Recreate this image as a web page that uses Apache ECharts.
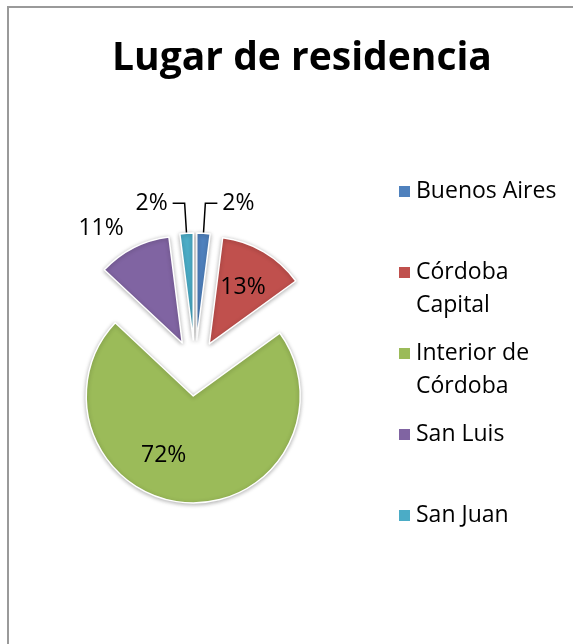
<!DOCTYPE html>
<html>
<head>
<meta charset="utf-8">
<title>Lugar de residencia</title>
<script src="https://cdn.jsdelivr.net/npm/echarts@6/dist/echarts.min.js"></script>
<style>
  html, body { margin: 0; padding: 0; background: #fff; overflow: hidden; }
  #frame { position: absolute; left: 7px; top: 6px; width: 640px; height: 700px;
           border-left: 2px solid #9a9a9a; border-top: 2px solid #9a9a9a; }
  #container { position: absolute; left: 0; top: 0; width: 573px; height: 644px; }
</style>
</head>
<body>
<div id="frame"></div>
<div id="container"></div>
<script>
// datos del grafico
var titulo = 'Lugar de residencia';
var lugares = ['Buenos Aires', 'Córdoba Capital', 'Interior de Córdoba', 'San Luis', 'San Juan'];
var leyendaTexto = ['Buenos Aires', 'Córdoba\nCapital', 'Interior de\nCórdoba', 'San Luis', 'San Juan'];
var porcentajes = [2, 13, 72, 11, 2];
var colores = ['#4F81BD', '#C0504D', '#9BBB59', '#8064A2', '#4BACC6'];

var fuente = 'Open Sans';

// como se ubica cada etiqueta (estilo tipo Excel)
var etiquetas = [
  { label: { position: 'outside' }, labelLine: { show: true, length: 30, length2: 12 } },
  { label: { position: 'inside' }, labelLine: { show: false } },
  { label: { position: 'inside' }, labelLine: { show: false } },
  { label: { position: 'outside' }, labelLine: { show: false, length: 22, length2: 0 } },
  { label: { position: 'outside' }, labelLine: { show: true, length: 30, length2: 12 } }
];
// pequeños corrimientos de las etiquetas
var corrimientos = [null, { dx: 5, dy: -8 }, { dx: -26, dy: 3 }, { dx: 5, dy: 0 }, null];

var datos = lugares.map(function (n, i) {
  return {
    name: n,
    value: porcentajes[i],
    selected: true,
    itemStyle: { color: colores[i] },
    label: etiquetas[i].label,
    labelLine: etiquetas[i].labelLine
  };
});

var chart = echarts.init(document.getElementById('container'), null, { renderer: 'canvas' });

var option = {
  animation: false,
  textStyle: { fontFamily: fuente },
  title: {
    text: titulo,
    left: 297,
    top: 34,
    textAlign: 'center',
    textStyle: { fontFamily: fuente, fontWeight: 'bold', fontSize: 39, color: '#000' }
  },
  legend: {
    orient: 'vertical',
    left: 397,
    top: 142,
    padding: 0,
    itemGap: -18,
    itemWidth: 13,
    itemHeight: 13,
    icon: 'rect',
    selectedMode: false,
    data: lugares,
    formatter: function (name) {
      var t = leyendaTexto[lugares.indexOf(name)];
      return ' \n' + t + (t.indexOf('\n') < 0 ? '\n ' : '');
    },
    textStyle: { fontFamily: fuente, fontSize: 23, lineHeight: 33, color: '#000' }
  },
  series: [{
    type: 'pie',
    center: [195, 368],
    radius: 107,
    startAngle: 90,
    clockwise: true,
    selectedMode: 'multiple',
    selectedOffset: 28,
    avoidLabelOverlap: false,
    itemStyle: {
      borderColor: '#fff',
      borderWidth: 1.5,
      shadowBlur: 4,
      shadowOffsetY: 1,
      shadowColor: 'rgba(0,0,0,0.3)'
    },
    select: {
      itemStyle: { borderColor: '#fff', borderWidth: 1.5 }
    },
    emphasis: { disabled: true },
    label: {
      show: true,
      formatter: '{d}%',
      fontFamily: fuente,
      fontSize: 23,
      color: '#000'
    },
    labelLine: {
      lineStyle: { color: '#000', width: 1.5 }
    },
    labelLayout: function (p) {
      return corrimientos[p.dataIndex] || {};
    },
    data: datos
  }]
};

chart.setOption(option);
</script>
</body>
</html>
